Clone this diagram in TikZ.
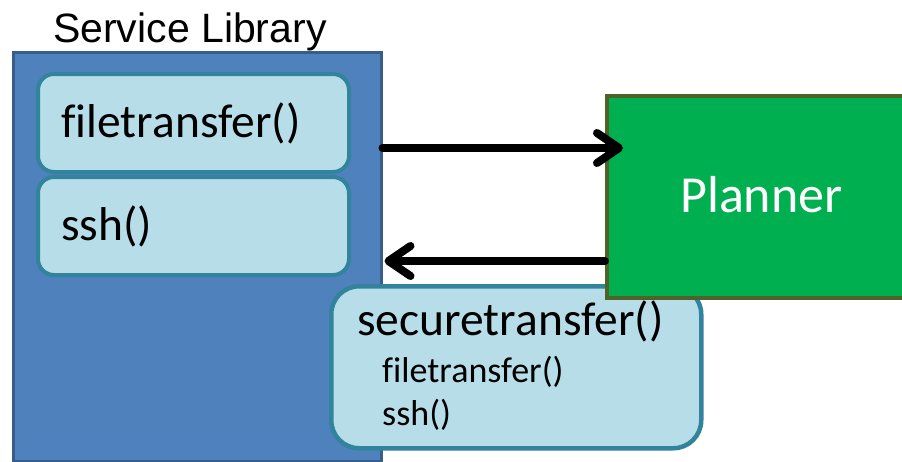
\documentclass[tikz,border=0pt]{standalone}
\usepackage{fontspec}
\setmainfont{Carlito}[Ligatures=NoCommon]
\newfontfamily\titlefont{Liberation Sans}
\usetikzlibrary{arrows.meta}

\definecolor{libfill}{HTML}{4F81BD}
\definecolor{libline}{HTML}{385D8A}
\definecolor{fnfill}{HTML}{B7DEE8}
\definecolor{fnline}{HTML}{31849B}
\definecolor{planfill}{HTML}{00B050}
\definecolor{planline}{HTML}{4F6228}

\tikzset{
  libbox/.style={draw=libline, fill=libfill, line width=2.5pt, inner sep=0pt, anchor=north west},
  fnbox/.style={draw=fnline, fill=fnfill, line width=4pt, rounded corners=16pt, inner sep=0pt, anchor=north west},
  planbox/.style={draw=planline, fill=planfill, line width=4pt, inner sep=0pt, anchor=north west},
  txt/.style={inner sep=0pt, anchor=base west},
  flow/.style={line width=8pt, line cap=round, line join=round,
    -{Straight Barb[length=22pt, width=30pt, round]}},
}

\begin{document}
\begin{tikzpicture}[x=1pt, y=-1pt]
  \useasboundingbox (0,0) rectangle (902,461);

  % library container and its functions
  \node[libbox, minimum width=368pt, minimum height=409pt] (lib) at (12,51) {};
  \node[txt] (libtitle) at (53,42) {\titlefont\fontsize{41}{41}\selectfont Service Library};

  \node[fnbox, minimum width=311pt, minimum height=98pt] (ft) at (36,72) {};
  \node[txt] (fttxt) at (61,137) {\fontsize{47.5}{47.5}\selectfont filetransfer()};

  \node[fnbox, minimum width=311pt, minimum height=98pt] (ssh) at (36,175) {};
  \node[txt] (sshtxt) at (61,240) {\fontsize{47.5}{47.5}\selectfont ssh()};

  % composed service returned by the planner
  \node[fnbox, rounded corners=28pt, line width=4.5pt, minimum width=370pt, minimum height=162pt] (sec) at (329,284) {};
  \node[txt] (sectxt) at (357,335) {\fontsize{47.5}{47.5}\selectfont securetransfer()};
  \node[txt] (secft) at (382,382) {\fontsize{36}{36}\selectfont filetransfer()};
  \node[txt] (secssh) at (382,425) {\fontsize{36}{36}\selectfont ssh()};

  % planner
  \node[planbox, minimum width=310pt, minimum height=202pt] (plan) at (605,94) {};
  \node[txt, text=white] (plantxt) at (680,212) {\fontsize{52}{52}\selectfont Planner};

  % request and answer
  \draw[flow] (lib.east |- 0,148) -- ([xshift=18pt]plan.west |- 0,148);
  \draw[flow] (plan.west |- 0,261) -- ([xshift=2pt]lib.east |- 0,261);
\end{tikzpicture}
\end{document}
